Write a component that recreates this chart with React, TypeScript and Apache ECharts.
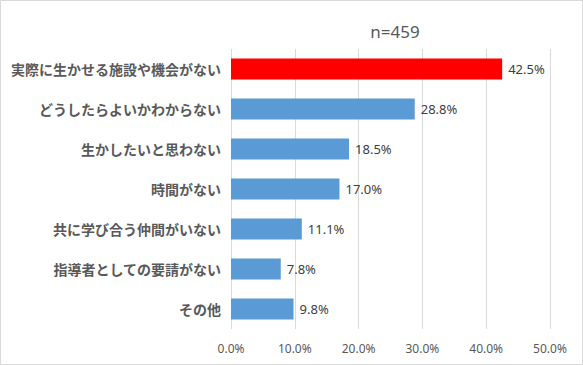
import React, { useEffect, useRef } from "react";
import * as echarts from "echarts";

const categories = [
  "実際に生かせる施設や機会がない",
  "どうしたらよいかわからない",
  "生かしたいと思わない",
  "時間がない",
  "共に学び合う仲間がいない",
  "指導者としての要請がない",
  "その他",
];
const values = [42.5, 28.8, 18.5, 17.0, 11.1, 7.8, 9.8];
const barColors = ["#FF0000", "#5B9BD5", "#5B9BD5", "#5B9BD5", "#5B9BD5", "#5B9BD5", "#5B9BD5"];
const title = "n=459";

export default function App() {
  const ref = useRef<HTMLDivElement>(null);
  useEffect(() => {
    if (!ref.current) return;
    const chart = echarts.init(ref.current, null, { renderer: "svg" });
    const font = "'Noto Sans CJK JP', 'Noto Sans', sans-serif";
    chart.setOption({
      animation: false,
      backgroundColor: "#ffffff",
      title: {
        text: title,
        left: 390,
        top: 18,
        textAlign: "center",
        textStyle: { fontSize: 17, fontWeight: "normal", color: "#595959", fontFamily: "'Noto Sans', sans-serif" },
      },
      graphic: [
        {
          type: "rect",
          shape: { x: 0.5, y: 0.5, width: 582, height: 364 },
          style: { fill: "none", stroke: "#d9d9d9", lineWidth: 1 },
          silent: true,
        },
      ],
      grid: { left: 231, right: 33, top: 49, bottom: 36, containLabel: false },
      xAxis: {
        type: "value",
        min: 0,
        max: 50,
        interval: 10,
        axisLine: { show: false },
        axisTick: { show: false },
        splitLine: { show: true, lineStyle: { color: "#d9d9d9", width: 1 } },
        axisLabel: {
          formatter: (v: number) => v.toFixed(1) + "%",
          color: "#595959",
          fontSize: 12,
          fontFamily: "'Noto Sans', sans-serif",
          margin: 13,
        },
      },
      yAxis: {
        type: "category",
        data: categories,
        inverse: true,
        axisLine: { show: false },
        axisTick: { show: false },
        axisLabel: {
          color: "#595959",
          fontSize: 14,
          fontWeight: "bold",
          fontFamily: font,
          margin: 10,
        },
      },
      series: [
        {
          type: "bar",
          data: values.map((v, i) => ({ value: v, itemStyle: { color: barColors[i] } })),
          barWidth: 21,
          label: {
            show: true,
            position: "right",
            distance: 6,
            formatter: (p: any) => p.value.toFixed(1) + "%",
            color: "#404040",
            fontSize: 13,
            fontFamily: "'Noto Sans', sans-serif",
          },
        },
      ],
    });
    return () => chart.dispose();
  }, []);
  return (
    <div
      ref={ref}
      style={{ position: "fixed", left: 0, top: 0, width: 583, height: 365 }}
    />
  );
}
